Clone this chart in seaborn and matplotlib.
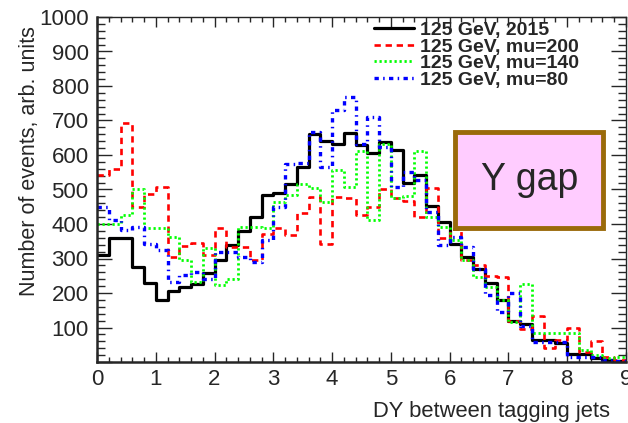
import numpy as np
import pandas as pd
import matplotlib
matplotlib.use("Agg")
import matplotlib.pyplot as plt
from matplotlib.patches import Rectangle
from matplotlib.ticker import MultipleLocator
import seaborn as sns

# ---- data (bins of 0.2 from 0 to 9) ----
bin_edges = [round(0.2 * i, 2) for i in range(46)]
centers = [round(0.2 * i + 0.1, 2) for i in range(45)]

y2015 = [310, 358, 358, 276, 228, 179, 206, 218, 226, 257,
         297, 339, 380, 420, 485, 490, 517, 565, 662, 642,
         633, 665, 630, 607, 639, 615, 520, 541, 452, 406,
         343, 305, 271, 229, 181, 120, 110, 64, 64, 54,
         22, 22, 11, 5, 3]
mu200 = [541, 560, 692, 448, 488, 507, 305, 337, 345, 310,
         389, 334, 334, 295, 370, 387, 367, 431, 478, 343,
         478, 474, 425, 448, 500, 474, 467, 420, 505, 360,
         385, 295, 280, 248, 246, 120, 95, 133, 42, 64,
         100, 30, 62, 14, 6]
mu140 = [399, 399, 425, 502, 389, 389, 363, 295, 231, 330,
         222, 240, 392, 392, 387, 464, 485, 515, 505, 464,
         556, 507, 613, 411, 633, 474, 480, 613, 420, 392,
         353, 295, 246, 218, 179, 117, 225, 83, 83, 83,
         83, 35, 20, 11, 15]
mu80 = [449, 411, 382, 392, 341, 326, 231, 252, 261, 240,
        318, 318, 305, 290, 353, 449, 575, 577, 666, 565,
        729, 768, 633, 710, 623, 507, 551, 527, 435, 340,
        363, 334, 271, 194, 146, 199, 104, 59, 59, 59,
        15, 15, 15, 6, 3]

labels = ["125 GeV, 2015", "125 GeV, mu=200", "125 GeV, mu=140", "125 GeV, mu=80"]
series = [y2015, mu200, mu140, mu80]
colors = ["#000000", "#ff0000", "#00ff00", "#0000ff"]
styles = ["-", (0, (2.4, 1.8)), (0, (0.8, 1.0)), (0, (1.3, 1.3, 0.45, 1.3))]
widths = [2.3, 1.9, 2.0, 2.4]

ylabels_vals = list(range(0, 1001, 100))

sns.set_style("ticks")
plt.rcParams["font.family"] = ["Liberation Sans", "DejaVu Sans"]

fig = plt.figure(figsize=(6.28, 4.23), dpi=100)
ax = fig.add_axes([97 / 628, (423 - 362) / 423, (626 - 97) / 628, (362 - 17) / 423])

for lab, vals, col, ls, lw in zip(labels, series, colors, styles, widths):
    df = pd.DataFrame({"DY": centers, "w": vals})
    sns.histplot(data=df, x="DY", weights="w", bins=bin_edges, element="step",
                 fill=False, color=col, linestyle=ls, linewidth=lw, ax=ax, label=lab)

ax.set_xlim(0, 9)
ax.set_ylim(0, 1000)
ax.set_xticks(range(0, 10))
ax.set_xticklabels([str(i) for i in range(0, 10)], fontsize=16)
ax.set_yticks(ylabels_vals)
ax.set_yticklabels([""] + [str(v) for v in ylabels_vals[1:]], fontsize=16)
ax.xaxis.set_minor_locator(MultipleLocator(0.2))
ax.yaxis.set_minor_locator(MultipleLocator(20))
ax.tick_params(axis="x", which="major", direction="in", length=7.5, width=1.0,
               top=True, bottom=True, pad=5)
ax.tick_params(axis="x", which="minor", direction="in", length=3.8, width=1.0,
               top=True, bottom=True)
ax.tick_params(axis="y", which="major", direction="in", length=11, width=1.0,
               left=True, right=True, pad=6)
ax.tick_params(axis="y", which="minor", direction="in", length=5.5, width=1.0,
               left=True, right=True)
for s in ["left", "bottom"]:
    ax.spines[s].set_linewidth(1.8)
for s in ["top", "right"]:
    ax.spines[s].set_linewidth(1.0)
    ax.spines[s].set_visible(True)

ax.set_xlabel("DY between tagging jets", fontsize=15.8, loc="right")
ax.xaxis.set_label_coords(0.97, -0.112)
ax.set_ylabel("Number of events, arb. units", fontsize=15.5, loc="top")
ax.yaxis.set_label_coords(-0.108, 0.975)

leg = ax.legend(loc="upper left", bbox_to_anchor=(0.52, 0.993), frameon=False,
                prop={"weight": "bold", "size": 14}, handlelength=2.05,
                handletextpad=0.3, labelspacing=-0.05, borderpad=0.1,
                borderaxespad=0)

# "Y gap" box
ax.add_patch(Rectangle((0.677, 0.388), 0.28, 0.278, transform=ax.transAxes,
                       facecolor="#ffccff", edgecolor="#9a6a0a", linewidth=3.5,
                       zorder=5))
ax.text(0.817, 0.527, "Y gap", transform=ax.transAxes, fontsize=27,
        ha="center", va="center", zorder=6)

fig.savefig("out.png", dpi=100)
